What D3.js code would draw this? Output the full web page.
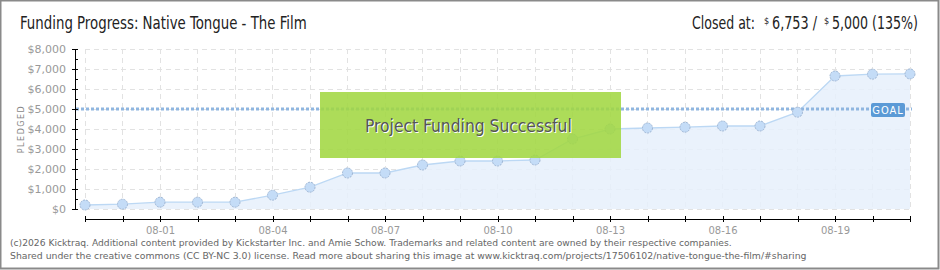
<!DOCTYPE html>
<meta charset="utf-8">
<style>
body { margin:0; background:#fff; }
svg text { font-family: "DejaVu Sans", Verdana, sans-serif; }
.axis path, .axis line { stroke:#000; shape-rendering:crispEdges; }
.axis text { fill:#999; font-size:10px; }
.grid line { stroke:#e2e2e2; stroke-dasharray:5,4; shape-rendering:crispEdges; }
</style>
<svg width="940" height="270"></svg>
<script src="https://cdn.jsdelivr.net/npm/d3@7"></script>
<script>

var days = ["07-30","07-31","08-01","08-02","08-03","08-04","08-05","08-06","08-07","08-08","08-09","08-10",
            "08-11","08-12","08-13","08-14","08-15","08-16","08-17","08-18","08-19","08-20","08-21"];
var pledged = [200,240,340,340,340,690,1090,1800,1800,2200,2400,2400,
               2450,3500,4000,4050,4090,4150,4150,4840,6650,6740,6753];
var tickLabels = ["08-01","08-04","08-07","08-10","08-13","08-16","08-19"];
var yTicks = [0,1000,2000,3000,4000,5000,6000,7000,8000];
var goal = 5000;

var narrow = "'Liberation Sans Narrow', 'DejaVu Sans Condensed', sans-serif";
var svg = d3.select("svg");

// squeeze a text horizontally to a given width (transform, so its box shrinks too)
function fitText(parent, str, x0, y0, width, size, fill, font) {
  var t = parent.append("text").attr("fill",fill).style("font-size",size+"px").text(str);
  if (font) t.style("font-family",font);
  var w = t.node().getComputedTextLength();
  var sx = width ? Math.min(width / w, 1.2) : 1;
  t.attr("transform","translate("+x0+","+y0+") scale("+sx+",1)");
  return t;
}

// frame
svg.append("rect").attr("x",0.5).attr("y",0.5).attr("width",938).attr("height",268)
  .attr("fill","#fff").attr("stroke","#8a8a8a").attr("stroke-width",2);

var x = d3.scalePoint().domain(days).range([85,910]),
    y = d3.scaleLinear().domain([0,8000]).range([209,49]);

// grid
var grid = svg.append("g").attr("class","grid");
grid.selectAll(".h").data(yTicks).enter().append("line")
  .attr("x1",85).attr("x2",910).attr("y1",function(d){return y(d);}).attr("y2",function(d){return y(d);});
grid.selectAll(".v").data(days).enter().append("line")
  .attr("x1",function(d){return x(d);}).attr("x2",function(d){return x(d);})
  .attr("y1",y(8000)).attr("y2",y(0));

var data = days.map(function(d,i){ return {d:d, v:pledged[i]}; });

var area = d3.area().x(function(d){return x(d.d);}).y0(y(0)).y1(function(d){return y(d.v);});
var line = d3.line().x(function(d){return x(d.d);}).y(function(d){return y(d.v);});

svg.append("path").datum(data).attr("d",area).attr("fill","#e6f0fc").attr("opacity",0.85);
svg.append("path").datum(data).attr("d",line).attr("fill","none").attr("stroke","#bcd8f4").attr("stroke-width",1.3);

// goal line
svg.append("line").attr("x1",76).attr("x2",912).attr("y1",y(goal)).attr("y2",y(goal))
  .attr("stroke","#8fb6e0").attr("stroke-width",3).attr("stroke-dasharray","3,2");

svg.append("g").selectAll("circle").data(data).enter().append("circle")
  .attr("cx",function(d){return x(d.d);}).attr("cy",function(d){return y(d.v);})
  .attr("r",5).attr("fill","#c4dcf7").attr("stroke","#9fb6d4").attr("stroke-width",1)
  .attr("stroke-dasharray","2,1");

// goal tag
var gt = svg.append("g").attr("transform","translate(871,"+(y(goal)-6)+")");
gt.append("rect").attr("width",34).attr("height",14).attr("rx",2).attr("fill","#5b9ad6");
gt.append("text").attr("x",17).attr("y",11).attr("text-anchor","middle")
  .attr("fill","#fff").style("font-family",narrow).style("font-size","11px").style("letter-spacing","1px").text("GOAL");

// success box
var sb = svg.append("g");
sb.append("rect").attr("x",320).attr("y",92).attr("width",301).attr("height",66)
  .attr("fill","#a2d742").attr("opacity",0.88);
fitText(sb, "Project Funding Successful", 366, 133, 207, 18, "#fff", narrow);
fitText(sb, "Project Funding Successful", 365, 132, 207, 18, "#555", narrow);

// axes
var yAxis = svg.append("g").attr("class","axis").attr("transform","translate(75,0)")
  .call(d3.axisLeft(y).tickValues(yTicks).tickSize(3).tickPadding(6).tickFormat(function(d){return "$"+d3.format(",")(d);}));
yAxis.selectAll(".tick line").attr("x2",-3).attr("x1",3);
yAxis.select(".domain").attr("d","M0,"+y(8000)+"V"+y(0));
yAxis.selectAll("text").style("font-size","11px");
yAxis.selectAll(".minor").data([500,1500,2500,3500,4500,5500,6500,7500]).enter().append("line")
  .attr("x1",0).attr("x2",3).attr("y1",function(d){return y(d);}).attr("y2",function(d){return y(d);})
  .attr("stroke","#d00");

var xAxis = svg.append("g").attr("class","axis").attr("transform","translate(0,219)")
  .call(d3.axisBottom(x).tickSize(5).tickPadding(3).tickFormat(function(d){return tickLabels.indexOf(d)>=0 ? d : "";}));
xAxis.select(".domain").attr("d","M"+x(days[0])+",0H"+x(days[days.length-1]));
xAxis.selectAll(".tick line").attr("y1",-3).attr("y2",3);

svg.append("text").attr("transform","translate(24,129) rotate(-90)").attr("text-anchor","middle")
  .attr("fill","#888").style("font-size","8px").style("letter-spacing","1.5px").text("PLEDGED");

// header
fitText(svg, "Funding Progress: Native Tongue - The Film", 20, 29, 287, 17, "#222", narrow);
fitText(svg, "Closed at:", 692, 29, 63, 17, "#222", narrow);
fitText(svg, "$", 764, 24, 0, 9, "#222", narrow);
fitText(svg, "6,753 /", 772, 29, 45, 17, "#222", narrow);
fitText(svg, "$", 824, 24, 0, 9, "#222", narrow);
fitText(svg, "5,000 (135%)", 832, 29, 86, 17, "#222", narrow);

// footer
var ft = svg.append("g");
fitText(ft, "(c)2026 Kicktraq. Additional content provided by Kickstarter Inc. and Amie Schow. Trademarks and related content are owned by their respective companies.",
  10, 246, 722, 9, "#666");
fitText(ft, "Shared under the creative commons (CC BY-NC 3.0) license. Read more about sharing this image at www.kicktraq.com/projects/17506102/native-tongue-the-film/#sharing",
  10, 259, 798, 9, "#666");
</script>
